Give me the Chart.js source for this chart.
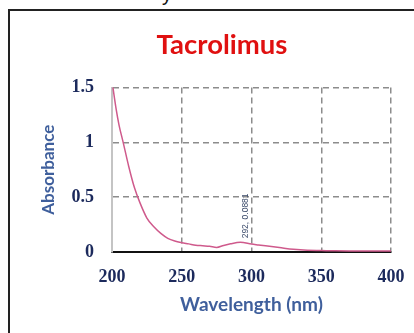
<!DOCTYPE html>
<html>
<head>
<meta charset="utf-8">
<script src="https://cdn.jsdelivr.net/npm/chart.js@4"></script>
<style>
  html, body { margin: 0; padding: 0; background: #fff; }
  #wrap { position: relative; width: 414px; height: 333px; overflow: hidden; }
  #frame { position: absolute; left: 8px; top: 9px; width: 420px; height: 340px;
           border-left: 2px solid #222; border-top: 2px solid #222; }
  #above { position: absolute; left: 162px; top: -17px; font: 20px "Liberation Sans", sans-serif; color: #111; }
  #chartCanvas { position: absolute; left: 0; top: 0; }
</style>
</head>
<body>
<div id="wrap">
  <div id="above">y</div>
  <div id="frame"></div>
  <canvas id="chartCanvas" width="414" height="333"></canvas>
</div>
<script>
const wavelengths = [200, 203, 205, 208, 212, 216, 220, 225, 230, 235, 240, 245, 250, 255, 260, 265, 270, 275, 280, 285, 292, 300, 305, 310, 320, 330, 340, 350, 360, 370, 380, 390, 400];
const absorbances = [1.56, 1.3, 1.16, 1.0, 0.78, 0.59, 0.45, 0.31, 0.23, 0.17, 0.125, 0.1, 0.085, 0.074, 0.062, 0.057, 0.052, 0.042, 0.06, 0.075, 0.0881, 0.072, 0.064, 0.056, 0.04, 0.024, 0.015, 0.013, 0.011, 0.01, 0.01, 0.01, 0.01];
const xTicks = [200, 250, 300, 350, 400];
const yTicks = [0, 0.5, 1, 1.5];
const peakWavelength = 292;
const peakAbsorbance = 0.0881;
const peakLabel = "292, 0.0881";

const chartContext = document.getElementById("chartCanvas");

const TICK_COLOR = "#1c2a5c";
const AXIS_TITLE_COLOR = "#3f5f9c";

// rotated label next to the peak
const peakLabelPlugin = {
  id: "peakLabel",
  afterDatasetsDraw(chart) {
    const { ctx, scales } = chart;
    const px = scales.x.getPixelForValue(peakWavelength);
    const py = scales.y.getPixelForValue(peakAbsorbance);
    ctx.save();
    ctx.translate(px + 5, py - 4);
    ctx.rotate(-Math.PI / 2);
    ctx.font = "8.5px 'Liberation Sans', sans-serif";
    ctx.fillStyle = "#3a4a6a";
    ctx.textAlign = "left";
    ctx.textBaseline = "middle";
    ctx.fillText(peakLabel, 0, 0);
    ctx.restore();
  },
};

let chart = new Chart(chartContext, {
  type: "scatter",
  data: {
    datasets: [
      {
        data: wavelengths.map((w, i) => ({ x: w, y: absorbances[i] })),
        borderColor: "#cf5a8c",
        borderWidth: 1.5,
        showLine: true,
        cubicInterpolationMode: "monotone",
        pointRadius: 0,
      },
    ],
  },
  options: {
    responsive: false,
    animation: false,
    layout: {
      padding: { left: 30, right: 0, top: 10, bottom: 0 },
    },
    plugins: {
      legend: { display: false },
      tooltip: { enabled: false },
      title: {
        display: true,
        text: "Tacrolimus",
        color: "#e01010",
        font: { family: "Lato", size: 27.5, weight: "bold" },
        padding: { top: 18.5, bottom: 26 },
      },
    },
    scales: {
      x: {
        type: "linear",
        min: 200,
        max: 400,
        afterFit: (scale) => {
          scale.height = 81;
          scale.paddingLeft = 0;
          scale.paddingRight = 0;
        },
        afterBuildTicks: (scale) => { scale.ticks = xTicks.map((v) => ({ value: v })); },
        ticks: {
          color: TICK_COLOR,
          padding: 15,
          font: { family: "Liberation Serif", size: 18, weight: "bold" },
        },
        grid: {
          drawTicks: false,
          color: "#8c8c8c",
          lineWidth: 1.5,
        },
        border: { color: "#111", width: 2, dash: [6, 4] },
        title: {
          display: true,
          text: "Wavelength (nm)",
          color: AXIS_TITLE_COLOR,
          font: { family: "Lato", size: 19, weight: "bold" },
          padding: { bottom: 17 },
        },
      },
      y: {
        min: 0,
        max: 1.5,
        afterFit: (scale) => { scale.width = 82; },
        afterBuildTicks: (scale) => { scale.ticks = yTicks.map((v) => ({ value: v })); },
        ticks: {
          color: TICK_COLOR,
          padding: 18,
          font: { family: "Liberation Serif", size: 18, weight: "bold" },
          callback: (v) => String(v),
        },
        grid: {
          drawTicks: false,
          color: "#8c8c8c",
          lineWidth: 1.5,
        },
        border: { color: "#c4c4c4", width: 2, dash: [6, 4] },
        title: {
          display: true,
          text: "Absorbance",
          color: AXIS_TITLE_COLOR,
          font: { family: "Lato", size: 17, weight: "bold" },
          padding: { top: 8 },
        },
      },
      // empty right axis, only reserves the margin on the right
      yRight: {
        position: "right",
        min: 0,
        max: 1.5,
        afterFit: (scale) => { scale.width = 23; },
        ticks: { display: false },
        grid: { display: false, drawTicks: false },
        border: { display: false },
      },
    },
  },
  plugins: [peakLabelPlugin],
});
</script>
</body>
</html>
